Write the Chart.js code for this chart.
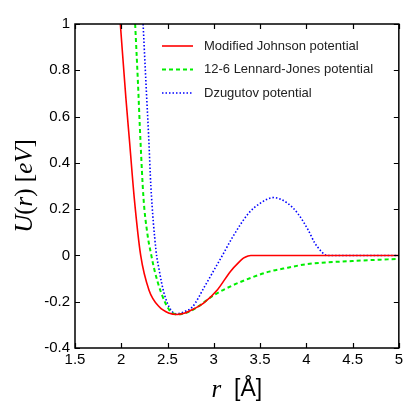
<!DOCTYPE html>
<html>
<head>
<meta charset="utf-8">
<script src="https://cdn.jsdelivr.net/npm/chart.js@4/dist/chart.umd.min.js"></script>
<style>
    html, body { margin: 0; padding: 0; background: #fff; }
    #wrap { width: 406px; height: 401px; }
</style>
</head>
<body>
<div id="wrap"><canvas id="chart" width="406" height="401"></canvas></div>
<script>
// Datos (r en Å, U en eV)
const johnsonR = [1.99, 2.05, 2.09, 2.14, 2.21, 2.3, 2.41, 2.52, 2.6, 2.68, 2.79, 2.89, 3.04, 3.18, 3.27, 3.32, 3.37, 3.4, 4.0, 5.0];
const johnsonU = [1.0, 0.68, 0.49, 0.25, 0.0, -0.15, -0.222, -0.25, -0.255, -0.25, -0.23, -0.206, -0.148, -0.069, -0.03, -0.012, -0.002, 0, 0, 0];

const ljR = [2.15, 2.18, 2.207, 2.24, 2.28, 2.325, 2.36, 2.43, 2.52, 2.6, 2.7, 2.8, 3.0, 3.2, 3.4, 3.6, 3.8, 4.0, 4.5, 5.0];
const ljU = [1.0, 0.75, 0.5, 0.25, 0.1, 0.0, -0.065, -0.16, -0.236, -0.255, -0.248, -0.229, -0.172, -0.13, -0.097, -0.07, -0.053, -0.038, -0.024, -0.015];

const dzR = [2.236, 2.27, 2.297, 2.32, 2.375, 2.41, 2.46, 2.536, 2.6, 2.68, 2.77, 2.9, 3.0, 3.1, 3.2, 3.376, 3.5, 3.644, 3.8, 3.91, 4.02, 4.09, 4.16, 4.22, 5.0];
const dzU = [1.0, 0.72, 0.506, 0.3, 0.023, -0.063, -0.16, -0.236, -0.252, -0.243, -0.222, -0.135, -0.065, 0.005, 0.077, 0.182, 0.225, 0.25, 0.225, 0.18, 0.11, 0.055, 0.018, 0.0, 0.0];

const seriesNames = ['Modified Johnson potential', '12-6 Lennard-Jones potential', 'Dzugutov potential'];
const xTicks = [1.5, 2, 2.5, 3, 3.5, 4, 4.5, 5];
const yTicks = [-0.4, -0.2, 0, 0.2, 0.4, 0.6, 0.8, 1];

function toPoints(xs, ys) {
    return xs.map((x, i) => ({ x: x, y: ys[i] }));
}

function fmt(v) {
    return Math.abs(v) < 1e-9 ? '0' : String(Math.round(v * 10) / 10);
}

// Marco, marcas interiores, leyenda y títulos de ejes
const framePlugin = {
    id: 'frame',
    afterDraw(chart) {
        const ctx = chart.ctx;
        const a = chart.chartArea;
        const xs = chart.scales.x;
        const ys = chart.scales.y;
        ctx.save();
        ctx.strokeStyle = '#000';
        ctx.lineWidth = 1.5;
        ctx.strokeRect(a.left, a.top, a.right - a.left, a.bottom - a.top);

        ctx.lineWidth = 1.2;
        ctx.beginPath();
        xTicks.forEach(v => {
            const px = Math.round(xs.getPixelForValue(v)) + 0.5;
            ctx.moveTo(px, a.bottom); ctx.lineTo(px, a.bottom - 5);
            ctx.moveTo(px, a.top); ctx.lineTo(px, a.top + 5);
        });
        yTicks.forEach(v => {
            const py = Math.round(ys.getPixelForValue(v)) + 0.5;
            ctx.moveTo(a.left, py); ctx.lineTo(a.left + 5, py);
            ctx.moveTo(a.right, py); ctx.lineTo(a.right - 5, py);
        });
        ctx.stroke();

        // Leyenda
        chart.data.datasets.forEach((ds, i) => {
            const y = 46 + i * 23.5;
            ctx.beginPath();
            ctx.strokeStyle = ds.borderColor;
            ctx.lineWidth = ds.borderWidth;
            ctx.setLineDash(ds.borderDash || []);
            ctx.moveTo(162, y);
            ctx.lineTo(193, y);
            ctx.stroke();
            ctx.setLineDash([]);
            ctx.fillStyle = '#222';
            ctx.font = '13px "Liberation Sans", Arial, sans-serif';
            ctx.textAlign = 'left';
            ctx.textBaseline = 'middle';
            ctx.fillText(ds.label, 204, y);
        });

        // Títulos de ejes con fuentes mezcladas
        const serifI = 'italic 25px "Liberation Serif", "Times New Roman", serif';
        const serif = '25px "Liberation Serif", "Times New Roman", serif';
        const sans = '23px "Liberation Sans", Arial, sans-serif';
        function drawParts(parts, cx, cy) {
            let total = 0;
            parts.forEach(p => { ctx.font = p.f; p.w = ctx.measureText(p.t).width; total += p.w; });
            let x = cx - total / 2;
            ctx.textAlign = 'left';
            ctx.textBaseline = 'middle';
            ctx.fillStyle = '#000';
            parts.forEach(p => { ctx.font = p.f; ctx.fillText(p.t, x, cy); x += p.w; });
        }
        drawParts([
            { t: 'r', f: serifI },
            { t: '  [', f: sans },
            { t: 'Å', f: sans },
            { t: ']', f: sans }
        ], (a.left + a.right) / 2, 390);

        ctx.save();
        ctx.translate(25, (a.top + a.bottom) / 2);
        ctx.rotate(-Math.PI / 2);
        drawParts([
            { t: 'U', f: serifI },
            { t: '(', f: serif },
            { t: 'r', f: serifI },
            { t: ')', f: serif },
            { t: ' [', f: serif },
            { t: 'eV', f: serifI },
            { t: ']', f: serif }
        ], 0, 0);
        ctx.restore();
        ctx.restore();
    }
};

const ctx = document.getElementById('chart').getContext('2d');
new Chart(ctx, {
    type: 'scatter',
    data: {
        datasets: [
            {
                label: seriesNames[0],
                data: toPoints(johnsonR, johnsonU),
                borderColor: '#ff0000',
                borderWidth: 1.6,
                showLine: true,
                pointRadius: 0,
                cubicInterpolationMode: 'monotone'
            },
            {
                label: seriesNames[1],
                data: toPoints(ljR, ljU),
                borderColor: '#00ee00',
                borderWidth: 2,
                borderDash: [4, 3],
                showLine: true,
                pointRadius: 0,
                cubicInterpolationMode: 'monotone'
            },
            {
                label: seriesNames[2],
                data: toPoints(dzR, dzU),
                borderColor: '#0000ff',
                borderWidth: 1.6,
                borderDash: [1.5, 2],
                showLine: true,
                pointRadius: 0,
                cubicInterpolationMode: 'monotone'
            }
        ]
    },
    options: {
        responsive: false,
        animation: false,
        layout: { padding: { top: 24, right: 3, left: 0, bottom: 0 } },
        plugins: {
            legend: { display: false },
            tooltip: { enabled: false }
        },
        scales: {
            x: {
                type: 'linear',
                min: 1.5,
                max: 5,
                afterBuildTicks: scale => { scale.ticks = xTicks.map(v => ({ value: v })); },
                afterFit: scale => { scale.height = 53; },
                grid: { drawOnChartArea: false, drawTicks: false },
                border: { display: false },
                ticks: {
                    color: '#000',
                    padding: 3,
                    maxRotation: 0,
                    font: { family: '"Liberation Sans", Arial, sans-serif', size: 15 },
                    callback: v => fmt(v)
                }
            },
            y: {
                type: 'linear',
                min: -0.4,
                max: 1,
                afterBuildTicks: scale => { scale.ticks = yTicks.map(v => ({ value: v })); },
                afterFit: scale => { scale.width = 75; },
                grid: { drawOnChartArea: false, drawTicks: false },
                border: { display: false },
                ticks: {
                    color: '#000',
                    padding: 5,
                    font: { family: '"Liberation Sans", Arial, sans-serif', size: 15 },
                    callback: v => fmt(v)
                }
            }
        }
    },
    plugins: [framePlugin]
});
</script>
</body>
</html>
